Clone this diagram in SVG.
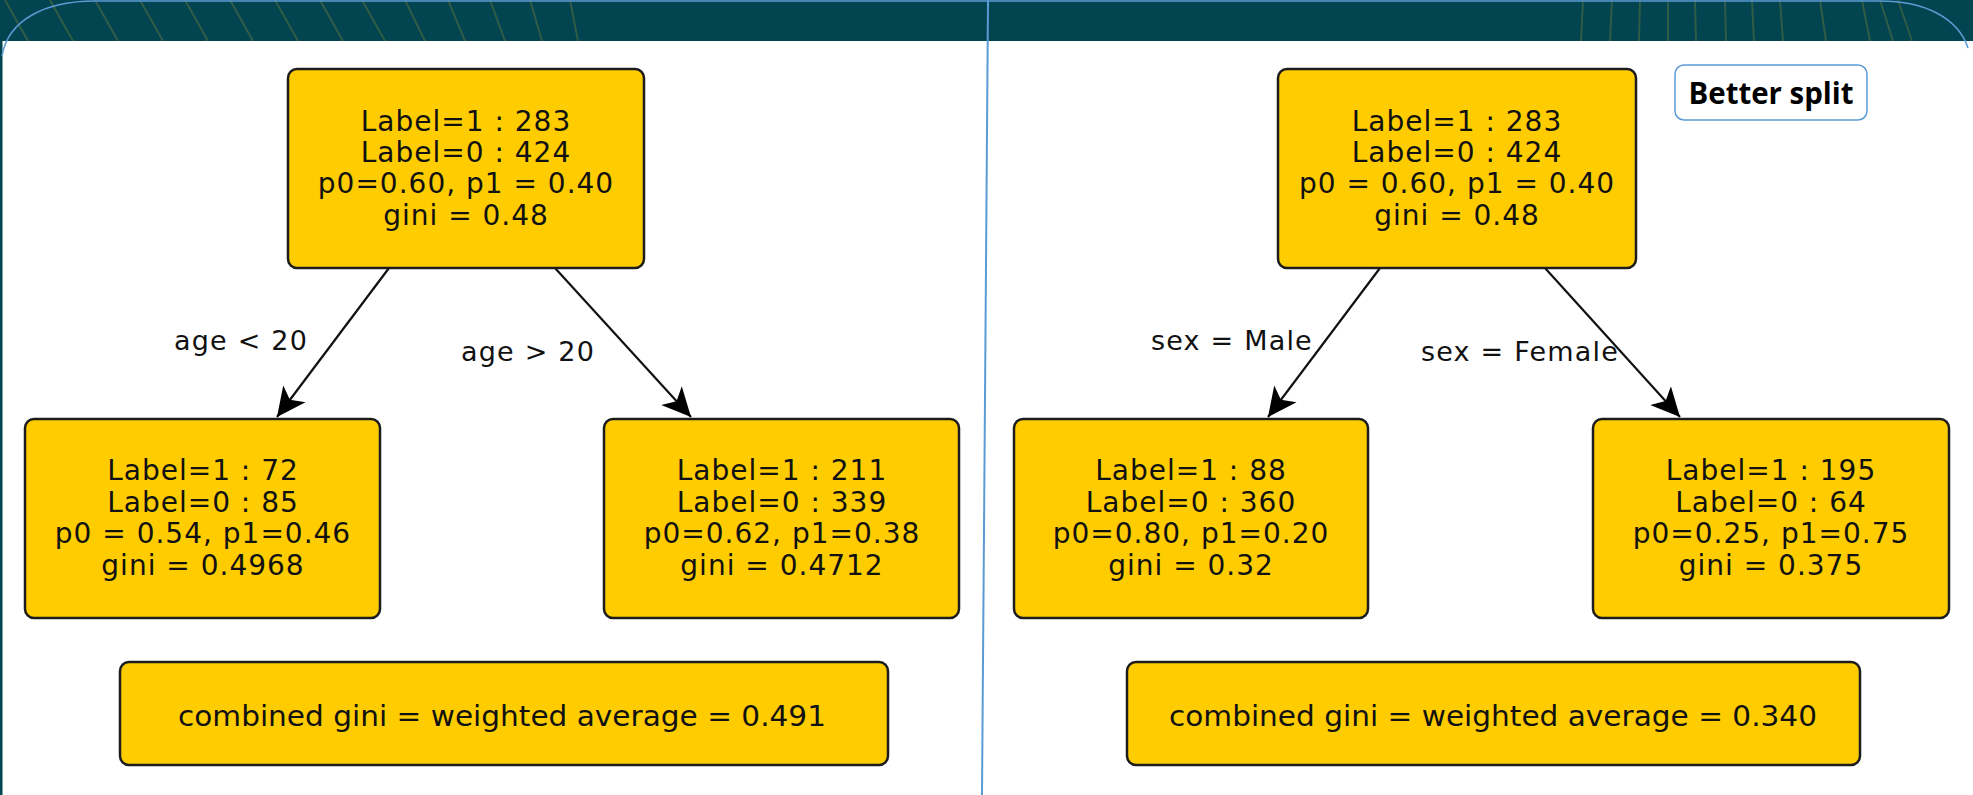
<svg xmlns="http://www.w3.org/2000/svg" width="1973" height="795" viewBox="0 0 1973 795">
  <style>
    .node { fill: #ffcc00; stroke: #1c1c1c; stroke-width: 2.5; }
    .t { font-family: "DejaVu Sans", "Liberation Sans", sans-serif; font-size: 28px; letter-spacing: 1px; fill: #111; text-anchor: middle; }
    .lbl { font-family: "DejaVu Sans", "Liberation Sans", sans-serif; font-size: 27px; letter-spacing: 1.2px; fill: #111; }
    .comb { font-family: "DejaVu Sans", "Liberation Sans", sans-serif; font-size: 28px; fill: #111; text-anchor: middle; }
    .edge { stroke: #111; stroke-width: 2.2; fill: none; marker-end: url(#arrow); }
    .stripe { stroke: #8a8a3a; stroke-opacity: 0.35; stroke-width: 2; fill: none; }
  </style>
  <defs>
    <marker id="arrow" markerUnits="userSpaceOnUse" markerWidth="30" markerHeight="30" viewBox="0 0 28 26" refX="27" refY="13" orient="auto">
      <path d="M27,13 L0,0 L7,13 L0,26 Z" fill="#000"/>
    </marker>
  </defs>

  <!-- page background and header band -->
  <rect x="0" y="0" width="1973" height="795" fill="#ffffff"/>
  <rect x="0" y="0" width="1973" height="41" fill="#02444f"/>
  <rect x="0" y="0" width="2.5" height="795" fill="#02444f"/>
  <g id="band-texture">
    <path class="stripe" d="M5,0 L28,41 M50,0 L73,41 M95,0 L118,41 M140,0 L163,41 M185,0 L208,41 M230,0 L253,41 M275,0 L298,41 M320,0 L343,41 M362,0 L385,41 M405,0 L425,41 M448,0 L465,41 M490,0 L505,41 M530,0 L542,41 M570,0 L578,41"/>
    <path class="stripe" d="M1583,0 L1581,41 M1612,0 L1610,41 M1640,0 L1639,41 M1668,0 L1668,41 M1695,0 L1696,41 M1725,0 L1726,41 M1752,0 L1754,41 M1780,0 L1783,41 M1820,0 L1826,41 M1862,0 L1870,41 M1880,0 L1893,41 M1898,0 L1912,41"/>
  </g>
  <path d="M2,56 C8,20 45,1 95,1 L1880,1 C1925,1 1958,18 1968,48" fill="none" stroke="#5b9bd5" stroke-width="1.5"/>

  <!-- divider between the two splits -->
  <line x1="988" y1="0" x2="982" y2="795" stroke="#5b9bd5" stroke-width="2"/>

  <!-- connectors -->
  <g id="connectors">
    <line class="edge" x1="389" y1="268" x2="277" y2="417"/>
    <line class="edge" x1="555" y1="268" x2="691" y2="417"/>
    <line class="edge" x1="1380" y1="268" x2="1268" y2="417"/>
    <line class="edge" x1="1545" y1="268" x2="1680" y2="417"/>
    <text class="lbl" x="174" y="350">age &lt; 20</text>
    <text class="lbl" x="461" y="361">age &gt; 20</text>
    <text class="lbl" x="1151" y="350">sex = Male</text>
    <text class="lbl" x="1421" y="361">sex = Female</text>
  </g>

  <!-- left split: age -->
  <g id="age-root">
    <rect class="node" x="288" y="69" width="356" height="199" rx="9"/>
    <text class="t" x="466" y="131">Label=1 : 283</text>
    <text class="t" x="466" y="162">Label=0 : 424</text>
    <text class="t" x="466" y="193">p0=0.60, p1 = 0.40</text>
    <text class="t" x="466" y="225">gini = 0.48</text>
  </g>
  <g id="age-lt-20">
    <rect class="node" x="25" y="419" width="355" height="199" rx="9"/>
    <text class="t" x="203" y="480">Label=1 : 72</text>
    <text class="t" x="203" y="512">Label=0 : 85</text>
    <text class="t" x="203" y="543">p0 = 0.54, p1=0.46</text>
    <text class="t" x="203" y="575">gini = 0.4968</text>
  </g>
  <g id="age-gt-20">
    <rect class="node" x="604" y="419" width="355" height="199" rx="9"/>
    <text class="t" x="782" y="480">Label=1 : 211</text>
    <text class="t" x="782" y="512">Label=0 : 339</text>
    <text class="t" x="782" y="543">p0=0.62, p1=0.38</text>
    <text class="t" x="782" y="575">gini = 0.4712</text>
  </g>
  <g id="age-combined">
    <rect class="node" x="120" y="662" width="768" height="103" rx="9"/>
    <text class="comb" x="502" y="726" textLength="648" lengthAdjust="spacingAndGlyphs">combined gini = weighted average = 0.491</text>
  </g>

  <!-- right split: sex -->
  <g id="sex-root">
    <rect class="node" x="1278" y="69" width="358" height="199" rx="9"/>
    <text class="t" x="1457" y="131">Label=1 : 283</text>
    <text class="t" x="1457" y="162">Label=0 : 424</text>
    <text class="t" x="1457" y="193">p0 = 0.60, p1 = 0.40</text>
    <text class="t" x="1457" y="225">gini = 0.48</text>
  </g>
  <g id="sex-male">
    <rect class="node" x="1014" y="419" width="354" height="199" rx="9"/>
    <text class="t" x="1191" y="480">Label=1 : 88</text>
    <text class="t" x="1191" y="512">Label=0 : 360</text>
    <text class="t" x="1191" y="543">p0=0.80, p1=0.20</text>
    <text class="t" x="1191" y="575">gini = 0.32</text>
  </g>
  <g id="sex-female">
    <rect class="node" x="1593" y="419" width="356" height="199" rx="9"/>
    <text class="t" x="1771" y="480">Label=1 : 195</text>
    <text class="t" x="1771" y="512">Label=0 : 64</text>
    <text class="t" x="1771" y="543">p0=0.25, p1=0.75</text>
    <text class="t" x="1771" y="575">gini = 0.375</text>
  </g>
  <g id="sex-combined">
    <rect class="node" x="1127" y="662" width="733" height="103" rx="9"/>
    <text class="comb" x="1493" y="726" textLength="648" lengthAdjust="spacingAndGlyphs">combined gini = weighted average = 0.340</text>
  </g>

  <!-- callout -->
  <g id="better-split">
    <rect x="1675" y="65" width="192" height="55" rx="9" fill="#ffffff" stroke="#5b9bd5" stroke-width="1.5"/>
    <text x="1771" y="104" font-family="'Open Sans', 'Liberation Sans', sans-serif" font-weight="bold" font-size="30" text-anchor="middle" fill="#000" textLength="165" lengthAdjust="spacingAndGlyphs">Better split</text>
  </g>
</svg>
